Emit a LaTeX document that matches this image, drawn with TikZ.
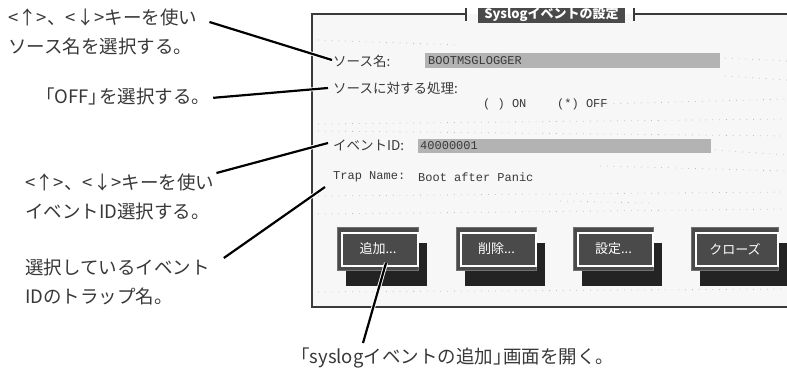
\documentclass[tikz,border=0pt]{standalone}
\usepackage{fontspec}
\usepackage{tikz}
\usetikzlibrary{calc,positioning,shadows}
\newfontfamily\jp{Noto Sans CJK JP}
\newfontfamily\scr{Liberation Mono}
\definecolor{cInk}{HTML}{383838}
\definecolor{cScreen}{HTML}{F7F7F7}
\definecolor{cFrame}{HTML}{3A3A3A}
\definecolor{cField}{HTML}{B3B3B3}
\definecolor{cBtn}{HTML}{4A4A4A}
\definecolor{cBtnRim}{HTML}{717171}
\definecolor{cShadow}{HTML}{232323}
\definecolor{cDots}{HTML}{BDBDBD}
\newcommand{\tightclose}{」\kern-.45em}

\begin{document}
\begin{tikzpicture}[
    x=1pt, y=-1pt,
    note/.style={font=\jp\fontsize{18.5}{29}\selectfont, text=cInk, align=left, inner sep=0pt, anchor=north west},
    lead/.style={line width=2.2pt, black, preaction={draw=white, line width=4pt}},
    scrjp/.style={font=\jp\fontsize{13.5}{16}\selectfont, text=cFrame, inner sep=0pt, anchor=west},
    scrtt/.style={font=\scr\fontsize{12}{14}\selectfont, text=cFrame, inner sep=0pt, anchor=west},
    field/.style={fill=cField, draw=none},
    btn/.style={font=\jp\fontsize{13}{15}\selectfont, text=white, fill=cBtn, draw=cBtnRim, line width=1pt,
                anchor=north west, minimum height=43pt, inner sep=0pt,
                drop shadow={fill=cShadow, opacity=1, shadow xshift=8pt, shadow yshift=-15pt}},
    texture/.style={cDots, line width=0.8pt, dash pattern=on 0.8pt off 6pt},
]
\useasboundingbox (0,0) rectangle (787,372);

% ---------- Screen frame ----------
\fill[cScreen] (312,14) rectangle (800,307);
\foreach \xa/\ya/\xb/\yb in {318/40/460/45, 725/58/787/61, 725/76/787/80, 600/104/787/99,
    318/124/787/119, 318/131/787/136, 715/150/787/155, 600/166/787/171, 318/196/787/192,
    318/214/787/209, 560/201/650/203, 318/292/787/289}{
  \draw[texture] (\xa,\ya) -- (\xb,\yb);
}
\draw[cFrame, line width=1.3pt] (466,14) -- (312,14) -- (312,307) -- (800,307);
\draw[cFrame, line width=1.3pt] (634,14) -- (800,14);
\draw[cFrame, line width=1.3pt] (466,8) -- (466,21);
\draw[cFrame, line width=1.3pt] (634,8) -- (634,21);
\node[font=\jp\fontsize{13}{15}\selectfont\bfseries, text=white, fill=cBtn, inner sep=0pt,
      minimum width=147pt, minimum height=15pt] (title) at (551.5,15) {Syslogイベントの設定};

% ---------- Fields ----------
\node[scrjp] (srcname) at (333,61) {ソース名:};
\fill[field] (425,53) rectangle (720,68);
\node[scrtt] (srcval) at (428,61) {BOOTMSGLOGGER};

\node[scrjp] (proc) at (333,88) {ソースに対する処理:};
\node[scrtt] (on) at (483,104) {( ) ON};
\node[scrtt] (off) at (557,104) {(*) OFF};

\node[scrjp] (evid) at (333,145) {イベントID:};
\fill[field] (418,139) rectangle (711,153);
\node[scrtt] (evval) at (420,146) {40000001};

\node[scrtt] (trap) at (333,177) {Trap Name:};
\node[scrtt] (trapval) at (418,177) {Boot after Panic};

% ---------- Buttons ----------
\node[btn, minimum width=81pt] (add) at (337,227) {追加...};
\node[btn, minimum width=80pt] (del) at (456,227) {削除...};
\node[btn, minimum width=80pt] (set) at (573,227) {設定...};
\node[btn, minimum width=87pt] (close) at (691,227) {クローズ};
\foreach \b in {add,del,set,close}{
  \draw[white, line width=1.2pt] ($(\b.north west)+(5,6)$) rectangle ($(\b.south east)+(-1,-5)$);
}

% ---------- Notes ----------
\node[note] (a1) at (8,9) {<↑>、<↓>キーを使い\\ソース名を選択する。};
\node[note] (a2) at (36,88) {「OFF\tightclose を選択する。};
\node[note] (a3) at (25,174) {<↑>、<↓>キーを使い\\イベントID選択する。};
\node[note] (a4) at (25,259) {選択しているイベント\\IDのトラップ名。};
\node[note] (a5) at (291,348) {「syslogイベントの追加\tightclose 画面を開く。};

% ---------- Leaders ----------
\draw[lead] ($(a1.north east)+(12,13)$) -- ($(srcname.west)+(-1,-1)$);
\draw[lead] ($(a2.east)+(3,1)$) -- ($(proc.west)+(-5,0)$);
\draw[lead] ($(a3.north east)+(2,-1)$) -- ($(evid.west)+(-5,-2)$);
\draw[lead] ($(a4.north east)+(14,-1)$) -- ($(trap.west)+(-8,10)$);
\draw[lead] ($(a5.north west)+(72,-5)$) -- ($(add.south)+(8,-8)$);

\end{tikzpicture}
\end{document}
